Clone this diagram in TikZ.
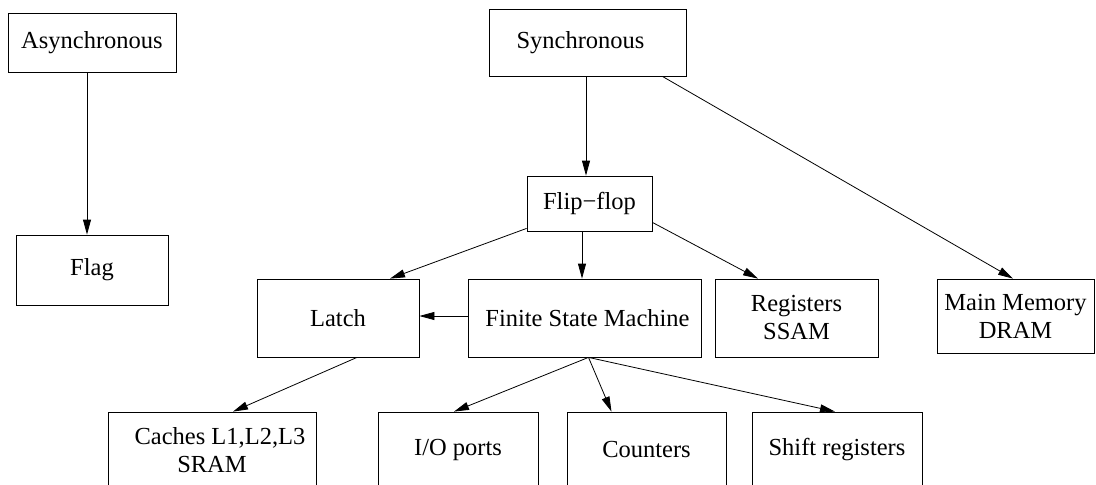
\documentclass[tikz,border=0pt]{standalone}
\usepackage{fontspec}
\setmainfont{Liberation Serif}
\usetikzlibrary{arrows.meta}
\begin{document}
\begin{tikzpicture}[x=1pt,y=-1pt,
  box/.style={draw, line width=0.8pt, rectangle, inner sep=0pt, align=center,
    font=\fontsize{24.5}{28}\selectfont},
  link/.style={line width=0.8pt, -{Triangle[length=15pt,width=8pt]}}]
  \clip (0,0) rectangle (1096,485);
  % top-level categories
  \node[box, minimum width=168pt, minimum height=59pt] (async) at (92,42.5) {Asynchronous};
  \node[box, minimum width=152pt, minimum height=70pt] (flag) at (92,270) {Flag};
  \node[box, minimum width=197pt, minimum height=67pt] (sync) at (587.5,42.5) {\hspace*{-14pt}Synchronous};
  \node[box, minimum width=125pt, minimum height=55pt] (ff) at (589.5,203.5) {Flip−flop};
  % second row
  \node[box, minimum width=162pt, minimum height=78pt] (latch) at (338,318) {Latch};
  \node[box, minimum width=233pt, minimum height=78pt] (fsm) at (584.5,318) {\hspace*{6pt}Finite State Machine};
  \node[box, minimum width=163pt, minimum height=78pt] (reg) at (796.5,318) {Registers\\SSAM};
  \node[box, minimum width=157pt, minimum height=74pt] (mm) at (1015.5,316) {Main Memory\\DRAM};
  % bottom row
  \node[box, minimum width=208pt, minimum height=76pt] (caches) at (212,450) {\hspace*{16pt}Caches L1,L2,L3\\SRAM};
  \node[box, minimum width=160pt, minimum height=76pt] (io) at (458,450) {I/O ports};
  \node[box, minimum width=159pt, minimum height=76pt] (cnt) at (646.5,450) {Counters};
  \node[box, minimum width=170pt, minimum height=76pt] (shift) at (837,450) {Shift registers};
  % connectors
  \draw[link] ([xshift=-5pt]async.south) -- ([xshift=-5pt]flag.north);
  \draw[link] (sync.south -| ff.north) ++(-3.5pt,0) coordinate (s1) -- (s1 |- ff.north);
  \draw[link] ([xshift=-24pt]sync.south east) -- ([xshift=-2.5pt]mm.north);
  \draw[link] ([yshift=3pt]ff.south west) -- ([xshift=52pt]latch.north);
  \draw[link] (fsm.north |- ff.south) ++(-2.5pt,0) coordinate (f1) -- (f1 |- fsm.north);
  \draw[link] ([yshift=9pt]ff.south east) -- ([xshift=-38.5pt]reg.north);
  \draw[link] ([yshift=2pt]fsm.west) -- ([yshift=2pt]latch.east);
  \draw[link] ([xshift=19pt]latch.south) -- ([xshift=21pt]caches.north);
  \coordinate (fo) at ([xshift=4pt]fsm.south);
  \draw[link] (fo) -- ([xshift=-4pt]io.north);
  \draw[link] (fo) -- ([xshift=-35pt]cnt.north);
  \draw[link] (fo) -- ([xshift=-2pt]shift.north);
\end{tikzpicture}
\end{document}
